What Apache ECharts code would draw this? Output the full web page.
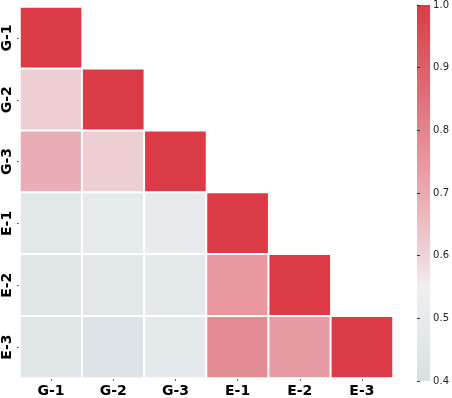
<!DOCTYPE html>
<html>
<head>
<meta charset="utf-8">
<script src="https://cdn.jsdelivr.net/npm/echarts@6/dist/echarts.min.js"></script>
<style>html,body{margin:0;padding:0;background:#fff;}#c{width:452px;height:398px;}</style>
</head>
<body>
<div id="c"></div>
<script>
// Categories (rows top->bottom, columns left->right)
const categories = ['G-1', 'G-2', 'G-3', 'E-1', 'E-2', 'E-3'];
// Lower-triangular correlation values, row by row
const rowG1 = [1.0];
const rowG2 = [0.61, 1.0];
const rowG3 = [0.69, 0.61, 1.0];
const rowE1 = [0.47, 0.49, 0.50, 1.0];
const rowE2 = [0.46, 0.47, 0.48, 0.75, 1.0];
const rowE3 = [0.46, 0.44, 0.48, 0.78, 0.74, 1.0];
const rows = [rowG1, rowG2, rowG3, rowE1, rowE2, rowE3];
// Colour scale range and tick labels
const scaleMin = 0.4, scaleMax = 1.0;
const colorbarTicks = ['0.4', '0.5', '0.6', '0.7', '0.8', '0.9', '1.0'];
const palette = ['#d7dfe2','#dfe5e8','#e7ebed','#f1eeef','#eed3d7','#ebbfc4','#e9aab1',
                 '#e6979f','#e3848d','#e0717b','#de5f69','#dc4d58','#da3b46'];

const data = [];
rows.forEach((r, yi) => r.forEach((v, xi) => data.push([xi, yi, v])));

const chart = echarts.init(document.getElementById('c'));
const font = 'DejaVu Sans';
chart.setOption({
  animation: false,
  backgroundColor: '#fff',
  grid: [
    { left: 20, top: 7, width: 373, height: 373 },
    { left: 417, top: 4, width: 19, height: 377, show: true, borderWidth: 0,
      backgroundColor: { type: 'linear', x: 0, y: 1, x2: 0, y2: 0,
        colorStops: palette.map((c, i) => ({ offset: i / (palette.length - 1), color: c })) } }
  ],
  xAxis: [
    { type: 'category', data: categories, gridIndex: 0, position: 'bottom',
      axisLine: { show: false }, splitLine: { show: false },
      axisTick: { show: true, alignWithLabel: true, length: 3, lineStyle: { color: '#555' } },
      axisLabel: { fontFamily: font, fontWeight: 'bold', fontSize: 14, color: '#000', margin: 6 } },
    { type: 'value', gridIndex: 1, show: false, min: 0, max: 1 }
  ],
  yAxis: [
    { type: 'category', data: categories, gridIndex: 0, inverse: true,
      axisLine: { show: false }, splitLine: { show: false },
      axisTick: { show: true, alignWithLabel: true, length: 3, lineStyle: { color: '#555' } },
      axisLabel: { fontFamily: font, fontWeight: 'bold', fontSize: 14, color: '#000', rotate: 90, margin: 6 } },
    { type: 'value', gridIndex: 1, position: 'right', min: scaleMin, max: scaleMax, interval: 0.1,
      axisLine: { show: false }, splitLine: { show: false },
      axisTick: { show: true, length: 3, lineStyle: { color: '#333' } },
      axisLabel: { fontFamily: font, fontSize: 10, color: '#222', margin: 3,
        formatter: (v) => colorbarTicks[Math.round((v - scaleMin) * 10)] } }
  ],
  visualMap: {
    show: false, type: 'continuous', min: scaleMin, max: scaleMax, seriesIndex: 0,
    inRange: { color: palette }
  },
  series: [{
    type: 'heatmap', xAxisIndex: 0, yAxisIndex: 0, data: data,
    itemStyle: { borderColor: '#fff', borderWidth: 2 },
    emphasis: { disabled: true }
  }]
});
</script>
</body>
</html>
